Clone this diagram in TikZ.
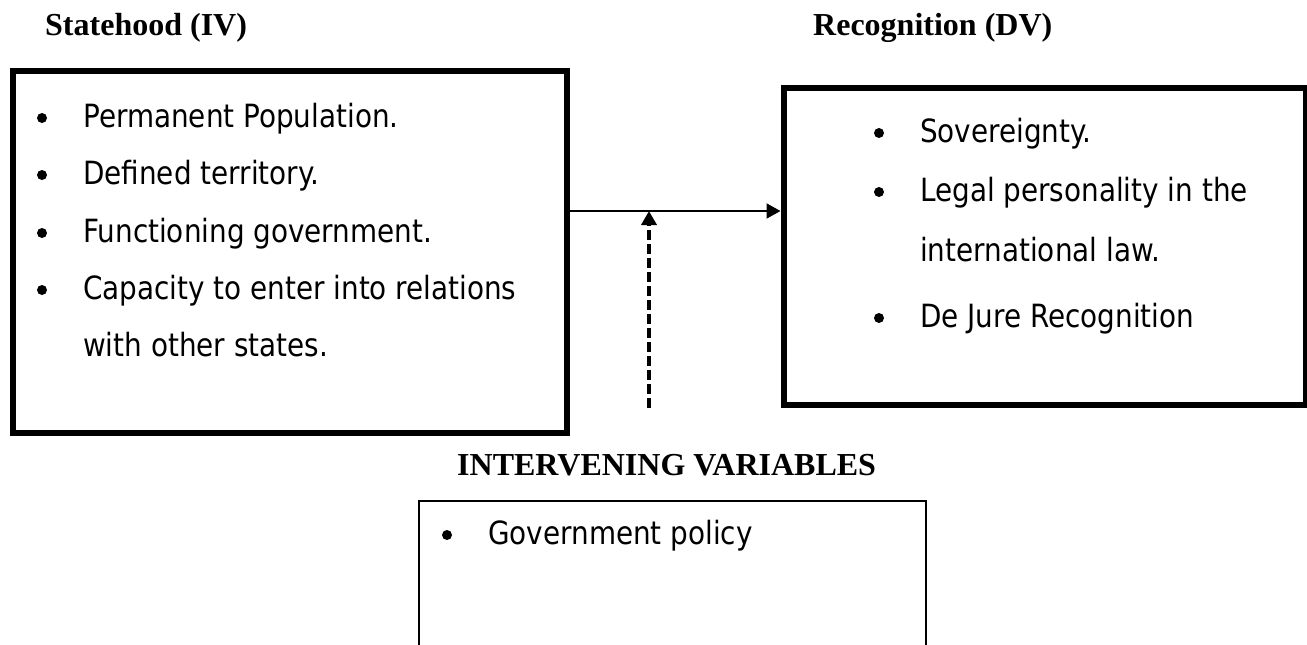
\documentclass[tikz,border=0pt]{standalone}
\usepackage{fontspec}
\setmainfont{Liberation Serif}
\newfontfamily\bodyfont[FakeStretch=0.87]{DejaVu Sans}
\usetikzlibrary{arrows.meta}
\tikzset{%
  thickbox/.style = {rectangle,draw,line width=6pt,inner sep=0pt},
  thinbox/.style = {rectangle,draw,line width=2pt,inner sep=0pt},
  causearrow/.style = {-{Triangle[length=14pt,width=15pt]},line width=2pt},
  dasharrow/.style = {-{Triangle[length=14pt,width=15pt]},line width=3.5pt,
        dash pattern=on 10pt off 4pt},
  head/.style = {anchor=base west,inner sep=0pt,
        font=\bfseries\fontsize{32}{38}\selectfont},
  txt/.style = {anchor=base west,inner sep=0pt,
        font=\bodyfont\fontsize{32}{38}\selectfont},
  dot/.style = {circle,fill,inner sep=0pt,minimum size=10pt}
}
\begin{document}
\begin{tikzpicture}[x=1pt,y=-1pt]
\useasboundingbox (0,0) rectangle (1307,645);
% headings
\node[head] (ivhead) at (45,35) {Statehood (IV)};
\node[head] (dvhead) at (813,35) {Recognition (DV)};
\node[head] (varhead) at (457,475) {INTERVENING VARIABLES};
% boxes
\node[thickbox,minimum width=554pt,minimum height=362pt] (ivbox) at (290,252) {};
\node[thickbox,minimum width=522.5pt,minimum height=317pt] (dvbox) at (1044.75,246.5) {};
\node[thinbox,minimum width=507pt,minimum height=400pt] (varbox) at (672.5,701) {};
% statehood
\node[dot] (iv1) at (42,118) {};
\node[txt] (ivt1) at (83,127) {Permanent Population.};
\node[dot] (iv2) at (42,175) {};
\node[txt] (ivt2) at (83,184) {Defined territory.};
\node[dot] (iv3) at (42,233) {};
\node[txt] (ivt3) at (83,242) {Functioning government.};
\node[dot] (iv4) at (42,290) {};
\node[txt] (ivt4) at (83,299) {Capacity to enter into relations};
\node[txt] (ivt5) at (83,356) {with other states.};
% recognition
\node[dot] (dv1) at (879,133) {};
\node[txt] (dvt1) at (920,142) {Sovereignty.};
\node[dot] (dv2) at (879,192) {};
\node[txt] (dvt2) at (920,201) {Legal personality in the};
\node[txt] (dvt3) at (920,261) {international law.};
\node[dot] (dv3) at (879,318) {};
\node[txt] (dvt4) at (920,327) {De Jure Recognition};
% intervening
\node[dot] (var1) at (447,535) {};
\node[txt] (vart1) at (488,544) {Government policy};
% arrows
\coordinate (link) at (649,211);
\coordinate (dashfoot) at (649,408);
\draw[causearrow] (ivbox.east |- link) -- (dvbox.west |- link);
\draw[dasharrow] (dashfoot) -- (link);
\end{tikzpicture}
\end{document}
